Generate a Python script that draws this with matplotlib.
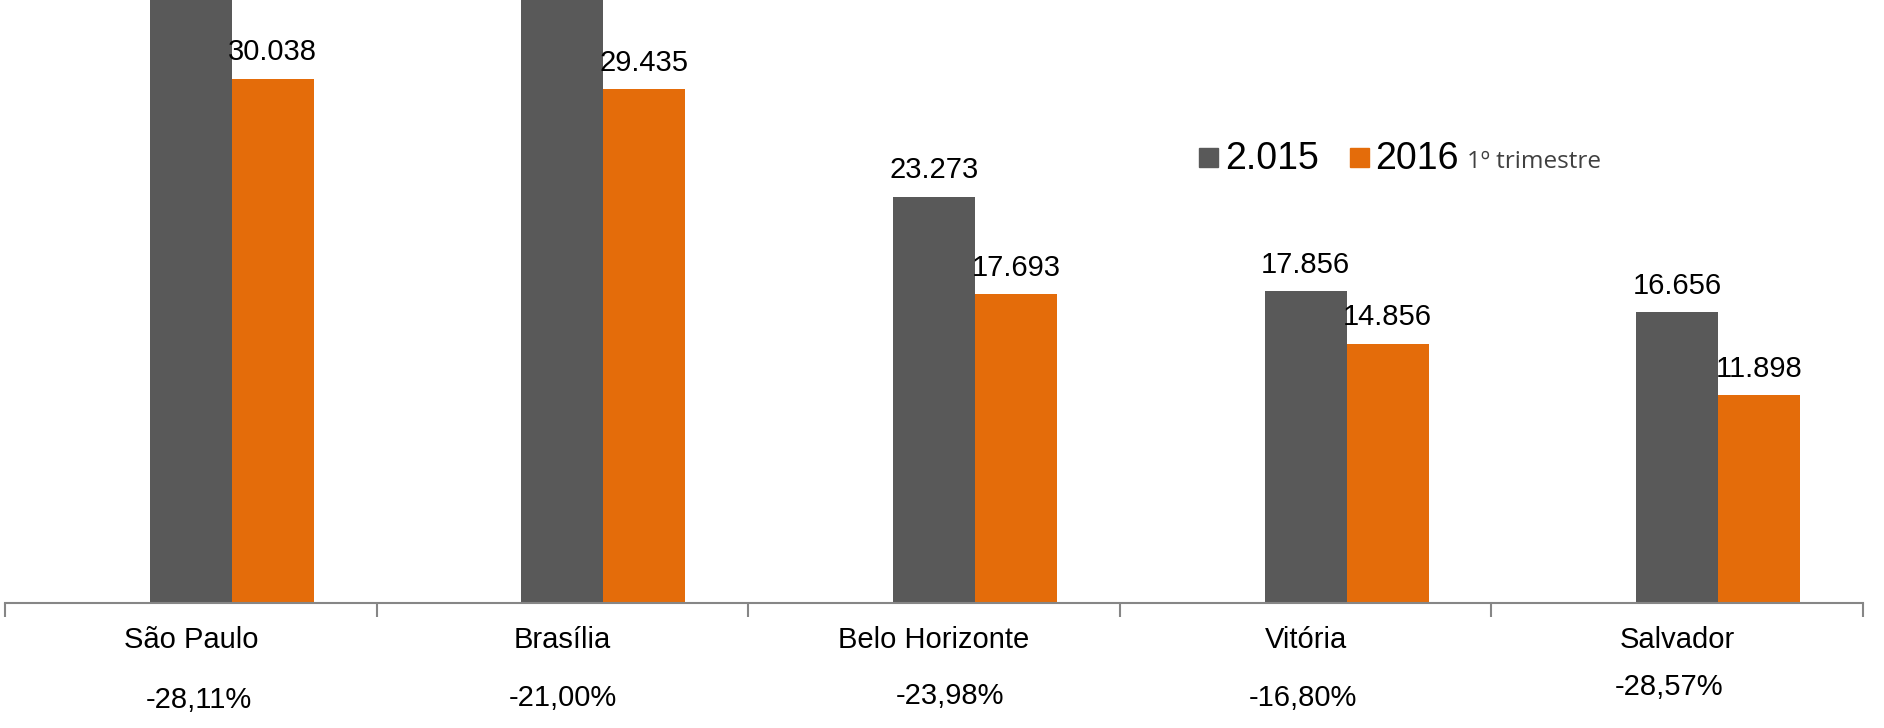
import matplotlib.pyplot as plt
from matplotlib.patches import Rectangle
import numpy as np

# ── Data ─────────────────────────────────────────────────────────
cities = ['São Paulo', 'Brasília', 'Belo Horizonte', 'Vitória', 'Salvador']
vals_2015 = [41783, 37259, 23273, 17856, 16656]
vals_2016 = [30038, 29435, 17693, 14856, 11898]
variation = ['-28,11%', '-21,00%', '-23,98%', '-16,80%', '-28,57%']

# ── Style ────────────────────────────────────────────────────────
gray = '#595959'
orange = '#E46C0A'
axis_color = '#868686'
font = 'Liberation Sans'
W, H = 1884, 728

fig = plt.figure(figsize=(W / 100, H / 100), dpi=100, facecolor='white')
ax = fig.add_axes([5 / W, 1 - 603 / H, (1863 - 5) / W, 603 / H])

x = np.arange(len(cities)) + 0.5
bw = 0.2207
ax.bar(x, vals_2015, width=bw, color=gray, zorder=2)
ax.bar(x + bw, vals_2016, width=bw, color=orange, zorder=2)

def fmt(v):
    return f'{v:,}'.replace(',', '.')

for xi, v in zip(x, vals_2015):
    ax.annotate(fmt(v), (xi, v), textcoords='offset points', xytext=(0, 13.5),
                ha='center', va='baseline', fontsize=21, family=font)
for xi, v in zip(x + bw, vals_2016):
    ax.annotate(fmt(v), (xi, v), textcoords='offset points', xytext=(0, 13.5),
                ha='center', va='baseline', fontsize=21, family=font)

ax.set_xlim(0, len(cities))
ax.set_ylim(0, 34565)

# axes
for s in ['top', 'right', 'left']:
    ax.spines[s].set_visible(False)
ax.spines['bottom'].set_color(axis_color)
ax.spines['bottom'].set_linewidth(1.5)
ax.set_yticks([])
ax.set_xticks([])
ax.set_xticks(np.arange(len(cities) + 1), minor=True)
ax.tick_params(axis='x', which='minor', length=10, width=1.5, color=axis_color,
               labelbottom=False)

# category labels and variation below axis
pct_dx = [8, 0, 16, -3, -8]
pct_base = [708, 706, 704, 706, 695]
for i, (xi, name, pct) in enumerate(zip(x, cities, variation)):
    ax.text(xi, (603 - 648) / 603, name, transform=ax.get_xaxis_transform(),
            ha='center', va='baseline', fontsize=21, family=font)
    ax.annotate(pct, (xi, (603 - pct_base[i]) / 603),
                xycoords=ax.get_xaxis_transform(), textcoords='offset pixels',
                xytext=(pct_dx[i], 0), ha='center', va='baseline',
                fontsize=21, family=font, annotation_clip=False)

# legend (drawn by hand)
fig.patches.append(Rectangle((1199 / W, 1 - 167 / H), 19 / W, 19 / H,
                             transform=fig.transFigure, color=gray))
fig.patches.append(Rectangle((1350 / W, 1 - 167 / H), 19 / W, 19 / H,
                             transform=fig.transFigure, color=orange))
fig.text(1225 / W, 1 - 169 / H, '2.015', fontsize=27, family=font,
         va='baseline', ha='left')
fig.text(1375 / W, 1 - 169 / H, '2016', fontsize=27, family=font,
         va='baseline', ha='left')
fig.text(1467 / W, 1 - 168 / H, '1º trimestre', fontsize=17.5,
         family='Open Sans', color='#404040', va='baseline', ha='left')

fig.savefig('out.png', dpi=100, facecolor='white')
